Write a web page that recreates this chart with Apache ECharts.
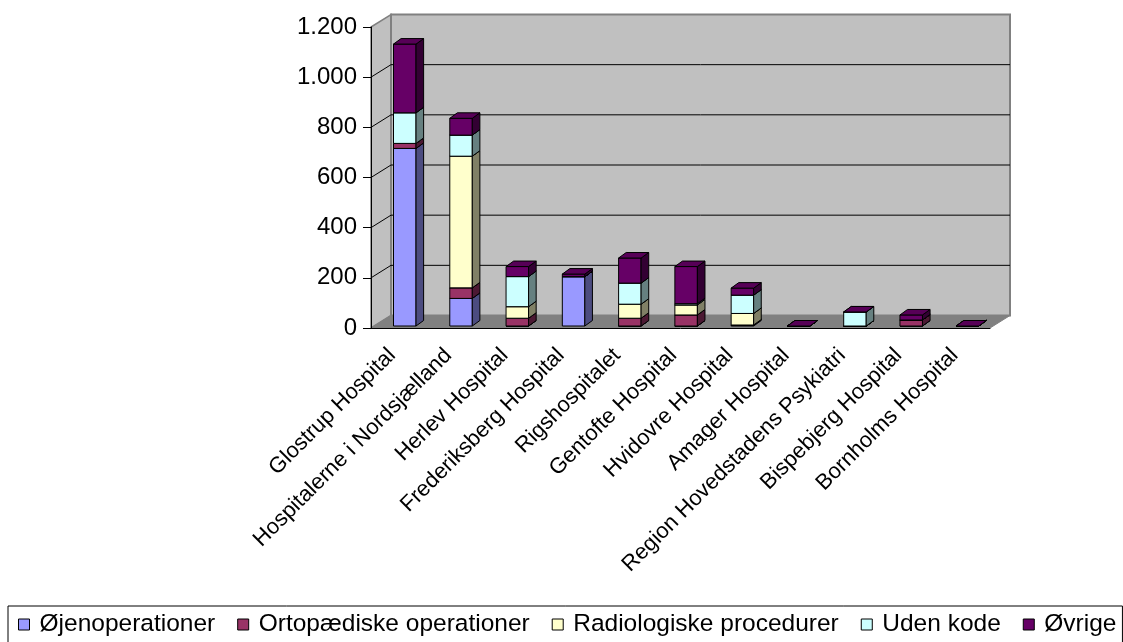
<!DOCTYPE html>
<html>
<head>
<meta charset="utf-8">
<script src="https://cdn.jsdelivr.net/npm/echarts@6/dist/echarts.min.js"></script>
<style>
html, body { margin: 0; padding: 0; background: #fff; }
#chart { width: 1123px; height: 642px; }
</style>
</head>
<body>
<div id="chart"></div>
<script>
var hospitals = ['Glostrup Hospital', 'Hospitalerne i Nordsjælland', 'Herlev Hospital', 'Frederiksberg Hospital',
    'Rigshospitalet', 'Gentofte Hospital', 'Hvidovre Hospital', 'Amager Hospital',
    'Region Hovedstadens Psykiatri', 'Bispebjerg Hospital', 'Bornholms Hospital'];

var oejenoperationer   = [708, 110,   0, 197,   0,   0,   4, 0,  0,  0, 0];
var ortopaediske       = [ 20,  42,  31,   0,  31,  44,   0, 0,  0, 24, 0];
var radiologiske       = [  0, 525,  46,   0,  56,  40,  46, 0,  0,  0, 0];
var udenKode           = [122,  84, 120,   0,  84,   5,  73, 0, 56,  0, 0];
var oevrige            = [274,  67,  40,  10, 100, 148,  28, 0,  0, 20, 0];

var seriesNames = ['Øjenoperationer', 'Ortopædiske operationer', 'Radiologiske procedurer', 'Uden kode', 'Øvrige'];
var seriesValues = [oejenoperationer, ortopaediske, radiologiske, udenKode, oevrige];
var frontColors = ['#9999FF', '#993366', '#FFFFCC', '#CCFFFF', '#660066'];
var sideColors  = ['#4C4C80', '#4C1933', '#808066', '#668080', '#330033'];
var topColors   = ['#8282D9', '#822B57', '#D9D9AD', '#ADD9D9', '#570057'];

var yTicks = [200, 400, 600, 800, 1000];

var FONT = '"Liberation Sans", Arial, sans-serif';
var WALL_DX = 20, WALL_DY = -12.5;

function makeBarRender(k) {
    return function (params, api) {
        var idx = api.value(0);
        var p0 = api.coord([idx, api.value(1)]);
        var p1 = api.coord([idx, api.value(2)]);
        var bw = api.size([1, 0])[0];
        var x0 = p0[0] - bw * 0.1;
        var w = bw * 0.4;
        var yb = p0[1] - 2, yt = p1[1] - 2;
        var dx = bw * 0.135, dy = -5.5;
        var st = { stroke: '#000', lineWidth: 1 };
        return {
            type: 'group',
            children: [
                { type: 'rect', shape: { x: x0, y: yt, width: w, height: yb - yt },
                  style: echarts.util.extend({ fill: frontColors[k] }, st) },
                { type: 'polygon', shape: { points: [[x0 + w, yb], [x0 + w + dx, yb + dy], [x0 + w + dx, yt + dy], [x0 + w, yt]] },
                  style: echarts.util.extend({ fill: sideColors[k] }, st) },
                { type: 'polygon', shape: { points: [[x0, yt], [x0 + dx, yt + dy], [x0 + w + dx, yt + dy], [x0 + w, yt]] },
                  style: echarts.util.extend({ fill: topColors[k] }, st) }
            ]
        };
    };
}

function renderWalls(params, api) {
    var cs = params.coordSys;
    var x = cs.x, y = cs.y, w = cs.width, h = cs.height;
    var dx = WALL_DX, dy = WALL_DY;
    var kids = [
        { type: 'polygon', shape: { points: [[x, y + h], [x, y], [x + dx, y + dy], [x + dx, y + h + dy]] },
          style: { fill: '#C0C0C0', stroke: '#808080', lineWidth: 1.5 } },
        { type: 'rect', shape: { x: x + dx, y: y + dy, width: w, height: h },
          style: { fill: '#C0C0C0', stroke: '#808080', lineWidth: 2 } },
        { type: 'polygon', shape: { points: [[x, y + h], [x + w, y + h], [x + w + dx, y + h + dy], [x + dx, y + h + dy]] },
          style: { fill: '#808080', stroke: '#808080', lineWidth: 1 } }
    ];
    yTicks.forEach(function (v) {
        var yy = api.coord([0, v])[1];
        kids.push({ type: 'polyline', shape: { points: [[x, yy], [x + dx, yy + dy], [x + w + dx, yy + dy]] },
            style: { stroke: '#000', lineWidth: 1, fill: null } });
    });
    return { type: 'group', children: kids };
}

var series = [{
    type: 'custom',
    name: 'walls',
    silent: true,
    z: 1,
    renderItem: renderWalls,
    data: [[0, 0]]
}];

var cum = hospitals.map(function () { return 0; });
seriesValues.forEach(function (vals, k) {
    var data = vals.map(function (v, i) {
        var item = [i, cum[i], cum[i] + v];
        cum[i] += v;
        return item;
    });
    series.push({
        type: 'custom',
        name: seriesNames[k],
        z: 3,
        renderItem: makeBarRender(k),
        encode: { x: 0, y: [1, 2] },
        itemStyle: { color: frontColors[k], borderColor: '#000', borderWidth: 1 },
        data: data
    });
});

var chart = echarts.init(document.getElementById('chart'));
chart.setOption({
    animation: false,
    backgroundColor: '#fff',
    grid: { left: 371, top: 27, width: 619, height: 301 },
    xAxis: {
        type: 'category',
        data: hospitals,
        z: 5,
        axisLine: { lineStyle: { color: '#000', width: 1 } },
        axisTick: { length: 8, lineStyle: { color: '#000' } },
        axisLabel: { interval: 0, rotate: 45, margin: 17, fontSize: 22, color: '#000', fontFamily: FONT,
            padding: [0, 10, 0, 0] },
        splitLine: { show: false }
    },
    yAxis: {
        type: 'value',
        min: 0, max: 1200, interval: 200,
        z: 5,
        axisLine: { show: true, lineStyle: { color: '#000', width: 1 } },
        axisTick: { show: true, length: 8, lineStyle: { color: '#000' } },
        axisLabel: {
            margin: 14, fontSize: 24, color: '#000', fontFamily: FONT,
            formatter: function (v) { return String(v).replace(/\B(?=(\d{3})+(?!\d))/g, '.'); }
        },
        splitLine: { show: false }
    },
    legend: {
        data: seriesNames,
        left: 8, top: 606,
        padding: [6, 6, 10, 10],
        borderColor: '#000', borderWidth: 1,
        icon: 'rect',
        itemWidth: 11, itemHeight: 11, itemGap: 22,
        itemStyle: { borderColor: '#000', borderWidth: 1 },
        textStyle: { fontSize: 24.5, color: '#000', fontFamily: FONT, padding: [0, 0, 0, 5] }
    },
    series: series
});
</script>
</body>
</html>
